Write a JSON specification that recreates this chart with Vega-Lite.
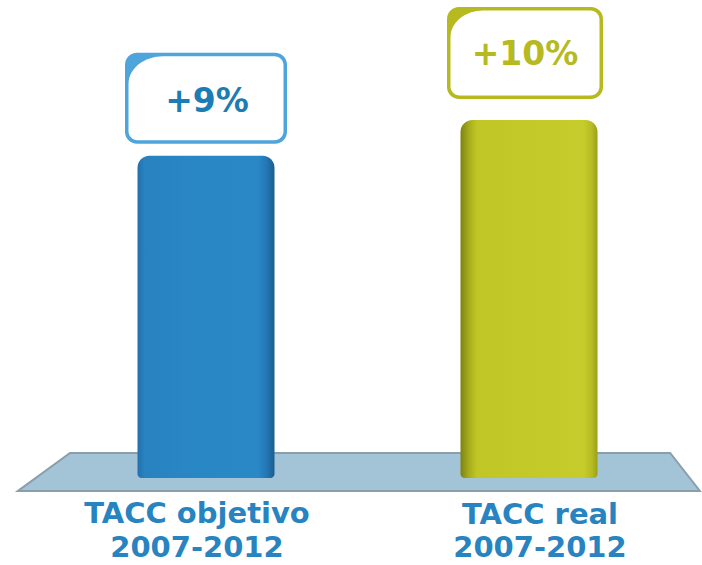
{
  "$schema": "https://vega.github.io/schema/vega-lite/v6.json",
  "width": 702,
  "height": 565,
  "padding": 0,
  "autosize": {"type": "none"},
  "background": "white",
  "config": {"view": {"stroke": null}},
  "datasets": {
    "bars": [
      {"cat": "TACC objetivo\n2007-2012", "value": 9, "label": "+9%"},
      {"cat": "TACC real\n2007-2012", "value": 10, "label": "+10%"}
    ],
    "floor": [
      {"fx": -0.582, "fy": -0.36},
      {"fx": -0.421, "fy": 0.70},
      {"fx": 1.437, "fy": 0.70},
      {"fx": 1.529, "fy": -0.36}
    ]
  },
  "resolve": {"scale": {"x": "independent"}},
  "layer": [
    {
      "data": {"name": "floor"},
      "mark": {"type": "area", "fill": "#a3c4d7", "stroke": "#8a9fab", "strokeWidth": 2, "opacity": 1},
      "encoding": {
        "x": {"field": "fx", "type": "quantitative", "axis": null, "scale": {"domain": [0, 1], "range": [206, 529], "zero": false, "nice": false}},
        "y": {"field": "fy", "type": "quantitative", "axis": null, "scale": {"domain": [0, 10], "range": [478, 120], "zero": false, "nice": false}},
        "y2": {"datum": -0.36}
      }
    },
    {
      "data": {"name": "bars"},
      "transform": [{"filter": "datum.value == 9"}],
      "layer": [
        {
          "mark": {
            "type": "bar", "width": 137,
            "cornerRadiusTopLeft": 12, "cornerRadiusTopRight": 12,
            "cornerRadiusBottomLeft": 4, "cornerRadiusBottomRight": 4,
            "color": {"gradient": "linear", "x1": 0, "x2": 1, "y1": 0, "y2": 0,
              "stops": [
                {"offset": 0, "color": "#2270ac"},
                {"offset": 0.05, "color": "#2882c0"},
                {"offset": 0.5, "color": "#2a87c6"},
                {"offset": 0.88, "color": "#2a88c7"},
                {"offset": 0.94, "color": "#2478b4"},
                {"offset": 1, "color": "#1a5d8e"}
              ]}
          },
          "encoding": {
            "y": {"field": "value", "type": "quantitative"},
            "y2": {"datum": 0}
          }
        },
        {
          "mark": {"type": "point", "filled": true, "fill": "#4ea5dc", "opacity": 1, "strokeWidth": 0, "size": 26244, "yOffset": -57.5,
            "shape": "M -0.852,-0.5617 L 0.852,-0.5617 A 0.148 0.148 0 0 1 1,-0.4137 L 1,0.4137 A 0.148 0.148 0 0 1 0.852,0.5617 L -0.852,0.5617 A 0.148 0.148 0 0 1 -1,0.4137 L -1,-0.4137 A 0.148 0.148 0 0 1 -0.852,-0.5617 Z"},
          "encoding": {"y": {"field": "value", "type": "quantitative"}}
        },
        {
          "mark": {"type": "point", "filled": true, "fill": "white", "opacity": 1, "strokeWidth": 0, "size": 26244, "yOffset": -57.5,
            "shape": "M -0.5268,-0.5185 L 0.8458,-0.5185 A 0.111 0.111 0 0 1 0.9568,-0.4075 L 0.9568,0.4075 A 0.111 0.111 0 0 1 0.8458,0.5185 L -0.8458,0.5185 A 0.111 0.111 0 0 1 -0.9568,0.4075 L -0.9568,-0.1785 A 0.43 0.34 0 0 1 -0.5268,-0.5185 Z"},
          "encoding": {"y": {"field": "value", "type": "quantitative"}}
        },
        {
          "mark": {"type": "text", "font": "DejaVu Sans", "fontWeight": "bold", "fontSize": 33, "color": "#1b7db3", "align": "center", "baseline": "alphabetic", "yOffset": -44, "xOffset": 1},
          "encoding": {"y": {"field": "value", "type": "quantitative"}, "text": {"field": "label"}}
        },
        {
          "mark": {"type": "text", "font": "DejaVu Sans", "fontWeight": "bold", "fontSize": 29, "color": "#2784c1", "align": "center", "baseline": "alphabetic", "lineBreak": "\n", "lineHeight": 34, "yOffset": 45, "xOffset": -9},
          "encoding": {"y": {"datum": 0, "type": "quantitative"}, "text": {"field": "cat"}}
        }
      ],
      "encoding": {
        "x": {"field": "cat", "type": "nominal", "axis": null, "scale": {"type": "point", "domain": ["TACC objetivo\n2007-2012", "TACC real\n2007-2012"], "range": [206, 529], "padding": 0}}
      }
    },
    {
      "data": {"name": "bars"},
      "transform": [{"filter": "datum.value == 10"}],
      "layer": [
        {
          "mark": {
            "type": "bar", "width": 137,
            "cornerRadiusTopLeft": 12, "cornerRadiusTopRight": 12,
            "cornerRadiusBottomLeft": 4, "cornerRadiusBottomRight": 4,
            "color": {"gradient": "linear", "x1": 0, "x2": 1, "y1": 0, "y2": 0,
              "stops": [
                {"offset": 0, "color": "#7d8310"},
                {"offset": 0.06, "color": "#a6ac1b"},
                {"offset": 0.12, "color": "#c0c626"},
                {"offset": 0.9, "color": "#c6cc2b"},
                {"offset": 0.96, "color": "#b5bb22"},
                {"offset": 1, "color": "#9a9f18"}
              ]}
          },
          "encoding": {
            "y": {"field": "value", "type": "quantitative"},
            "y2": {"datum": 0}
          }
        },
        {
          "mark": {"type": "point", "filled": true, "fill": "#b6ba1e", "opacity": 1, "strokeWidth": 0, "size": 24336, "yOffset": -67, "xOffset": -4,
            "shape": "M -0.846,-0.5897 L 0.846,-0.5897 A 0.154 0.154 0 0 1 1,-0.4357 L 1,0.4357 A 0.154 0.154 0 0 1 0.846,0.5897 L -0.846,0.5897 A 0.154 0.154 0 0 1 -1,0.4357 L -1,-0.4357 A 0.154 0.154 0 0 1 -0.846,-0.5897 Z"},
          "encoding": {"y": {"field": "value", "type": "quantitative"}}
        },
        {
          "mark": {"type": "point", "filled": true, "fill": "white", "opacity": 1, "strokeWidth": 0, "size": 24336, "yOffset": -67, "xOffset": -4,
            "shape": "M -0.5351,-0.5449 L 0.8401,-0.5449 A 0.115 0.115 0 0 1 0.9551,-0.4299 L 0.9551,0.4299 A 0.115 0.115 0 0 1 0.8401,0.5449 L -0.8401,0.5449 A 0.115 0.115 0 0 1 -0.9551,0.4299 L -0.9551,-0.2049 A 0.42 0.34 0 0 1 -0.5351,-0.5449 Z"},
          "encoding": {"y": {"field": "value", "type": "quantitative"}}
        },
        {
          "mark": {"type": "text", "font": "DejaVu Sans", "fontWeight": "bold", "fontSize": 33, "color": "#b6ba1e", "align": "center", "baseline": "alphabetic", "yOffset": -55, "xOffset": -4},
          "encoding": {"y": {"field": "value", "type": "quantitative"}, "text": {"field": "label"}}
        },
        {
          "mark": {"type": "text", "font": "DejaVu Sans", "fontWeight": "bold", "fontSize": 29, "color": "#2784c1", "align": "center", "baseline": "alphabetic", "lineBreak": "\n", "lineHeight": 33, "yOffset": 46, "xOffset": 11},
          "encoding": {"y": {"datum": 0, "type": "quantitative"}, "text": {"field": "cat"}}
        }
      ],
      "encoding": {
        "x": {"field": "cat", "type": "nominal", "axis": null, "scale": {"type": "point", "domain": ["TACC objetivo\n2007-2012", "TACC real\n2007-2012"], "range": [206, 529], "padding": 0}}
      }
    }
  ]
}
